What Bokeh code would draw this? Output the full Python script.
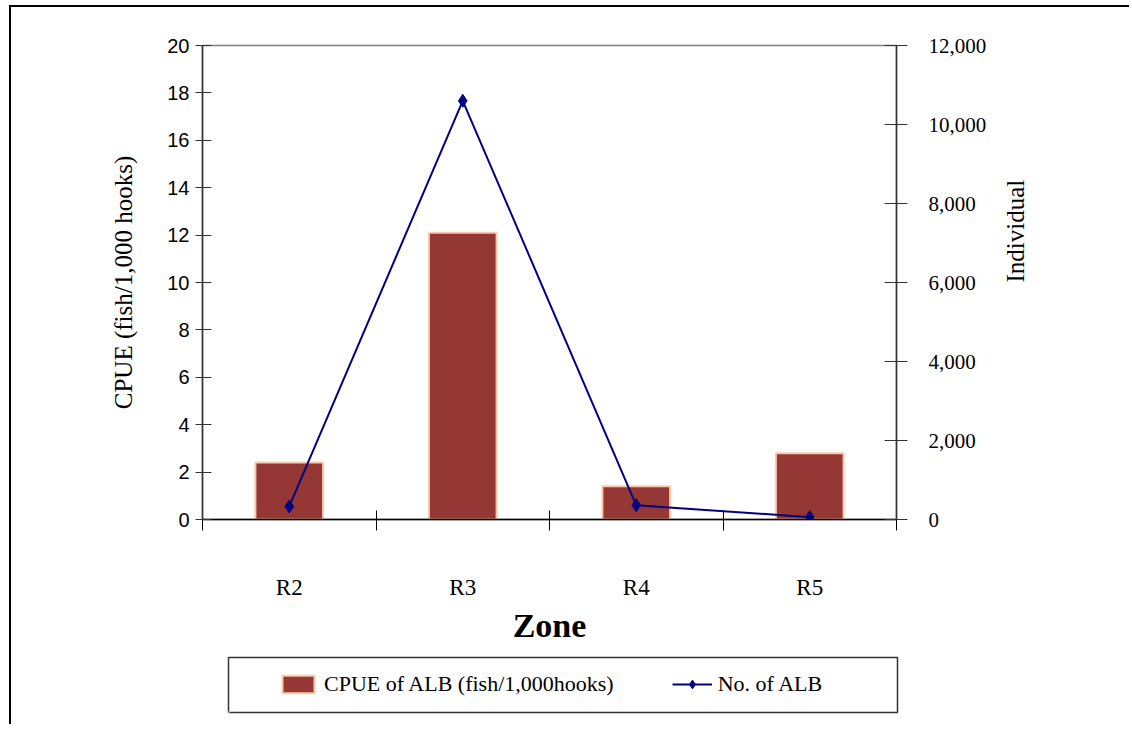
import math
from bokeh.plotting import figure
from bokeh.layouts import column
from bokeh.models import (Range1d, LinearAxis, FixedTicker, NumeralTickFormatter,
                          Legend, LegendItem)
from bokeh.embed import file_html
from bokeh.resources import INLINE

zones = ["R2", "R3", "R4", "R5"]
cpue = [2.4, 12.1, 1.4, 2.8]
individuals = [330, 10600, 360, 60]
left_ticks = [0, 2, 4, 6, 8, 10, 12, 14, 16, 18, 20]
right_ticks = [0, 2000, 4000, 6000, 8000, 10000, 12000]

xpos = [i + 0.5 for i in range(len(zones))]

SERIF = "Liberation Serif"
SANS = "Liberation Sans"
BAR_FILL = "#953735"
BAR_LINE = "#f9c9a8"
LINE_COLOR = "#000080"

p = figure(width=1118, height=642, output_backend="svg", toolbar_location=None,
           x_range=Range1d(0, 4), y_range=Range1d(0, 20),
           min_border_left=191, min_border_top=38, min_border_right=233,
           min_border_bottom=130)
p.frame_align = False
p.background_fill_color = "white"
p.border_fill_color = "white"
p.outline_line_color = "#808080"
p.outline_line_width = 1.5
p.xgrid.visible = False
p.ygrid.visible = False

p.extra_y_ranges = {"ind": Range1d(0, 12000)}

bars = p.vbar(x=xpos, top=cpue, width=0.39, bottom=0,
              fill_color=BAR_FILL, line_color=BAR_LINE, line_width=2)
line = p.line(x=xpos, y=individuals, y_range_name="ind",
              line_color=LINE_COLOR, line_width=2)
pts = p.scatter(x=xpos, y=individuals, y_range_name="ind", marker="diamond",
                size=13, fill_color=LINE_COLOR, line_color=LINE_COLOR)

# bottom axis
xa = p.xaxis[0]
xa.ticker = FixedTicker(ticks=xpos, minor_ticks=[0, 1, 2, 3, 4])
xa.major_label_overrides = {x: z for x, z in zip(xpos, zones)}
xa.major_tick_in = 0
xa.major_tick_out = 0
xa.minor_tick_in = 9
xa.minor_tick_out = 11
xa.minor_tick_line_color = "black"
xa.axis_line_color = "black"
xa.axis_line_width = 1.5
xa.major_label_standoff = 44
xa.major_label_text_font = SERIF
xa.major_label_text_font_size = "23px"
xa.major_label_text_color = "black"
xa.axis_label = "Zone"
xa.axis_label_text_font = SERIF
xa.axis_label_text_font_size = "34px"
xa.axis_label_text_font_style = "bold"
xa.axis_label_text_color = "black"
xa.axis_label_standoff = 4

# left axis
ya = p.yaxis[0]
ya.ticker = FixedTicker(ticks=left_ticks)
ya.major_tick_in = 9
ya.major_tick_out = 7
ya.minor_tick_line_color = None
ya.axis_line_color = "#333333"
ya.axis_line_width = 1.5
ya.major_tick_line_color = "#333333"
ya.major_label_standoff = 6
ya.major_label_text_font = SANS
ya.major_label_text_font_size = "20px"
ya.major_label_text_color = "black"
ya.axis_label = "CPUE (fish/1,000 hooks)"
ya.axis_label_text_font = SERIF
ya.axis_label_text_font_size = "25px"
ya.axis_label_text_font_style = "normal"
ya.axis_label_text_color = "black"
ya.axis_label_standoff = 27

# right axis
ra = LinearAxis(y_range_name="ind", ticker=FixedTicker(ticks=right_ticks),
                formatter=NumeralTickFormatter(format="0,0"))
ra.major_tick_in = 12
ra.major_tick_out = 11
ra.minor_tick_line_color = None
ra.axis_line_color = "#333333"
ra.axis_line_width = 1.5
ra.major_tick_line_color = "#333333"
ra.major_label_standoff = 21
ra.major_label_text_font = SERIF
ra.major_label_text_font_size = "21px"
ra.major_label_text_color = "black"
ra.axis_label = "Individual"
ra.axis_label_text_font = SERIF
ra.axis_label_text_font_size = "25px"
ra.axis_label_text_font_style = "normal"
ra.axis_label_text_color = "black"
ra.axis_label_standoff = 26
if "axis_label_orientation" in ra.properties():
    ra.axis_label_orientation = math.pi / 2
p.add_layout(ra, "right")

# legend figure: its frame outline is the legend box; the proxy renderers
# lie far outside its ranges so only their legend glyphs show
lg = figure(width=1118, height=75, output_backend="svg", toolbar_location=None,
            x_range=Range1d(100, 101), y_range=Range1d(50000, 50001),
            x_axis_location=None, y_axis_location=None,
            min_border_left=217, min_border_right=232,
            min_border_top=8, min_border_bottom=12)
lg.frame_align = False
lg.xgrid.visible = False
lg.ygrid.visible = False
lg.outline_line_color = "#333333"
lg.outline_line_width = 1.5
lg.background_fill_color = "white"
lg.border_fill_color = "white"

lbar = lg.vbar(x=xpos, top=cpue, width=0.39, bottom=0,
               fill_color=BAR_FILL, line_color=BAR_LINE, line_width=2)
lline = lg.line(x=xpos, y=individuals, line_color=LINE_COLOR, line_width=2)
lpts = lg.scatter(x=xpos, y=individuals, marker="diamond", size=12,
                  fill_color=LINE_COLOR, line_color=LINE_COLOR)

legend = Legend(items=[
    LegendItem(label="CPUE of ALB (fish/1,000hooks)", renderers=[lbar]),
    LegendItem(label="No. of ALB", renderers=[lline, lpts]),
], orientation="horizontal", location=(50, 15))
legend.label_text_font = SERIF
legend.label_text_font_size = "22px"
legend.label_text_color = "black"
legend.glyph_width = 40
legend.glyph_height = 22
legend.label_standoff = 6
legend.spacing = 58
legend.padding = 0
legend.margin = 0
legend.border_line_color = None
legend.background_fill_alpha = 0
lg.add_layout(legend, "center")

layout = column(p, lg, spacing=0)
layout.styles = {"margin-left": "9px", "margin-top": "5px",
                 "border-left": "2px solid black", "border-top": "2px solid black"}

open("out.html", "w").write(file_html(layout, INLINE))
